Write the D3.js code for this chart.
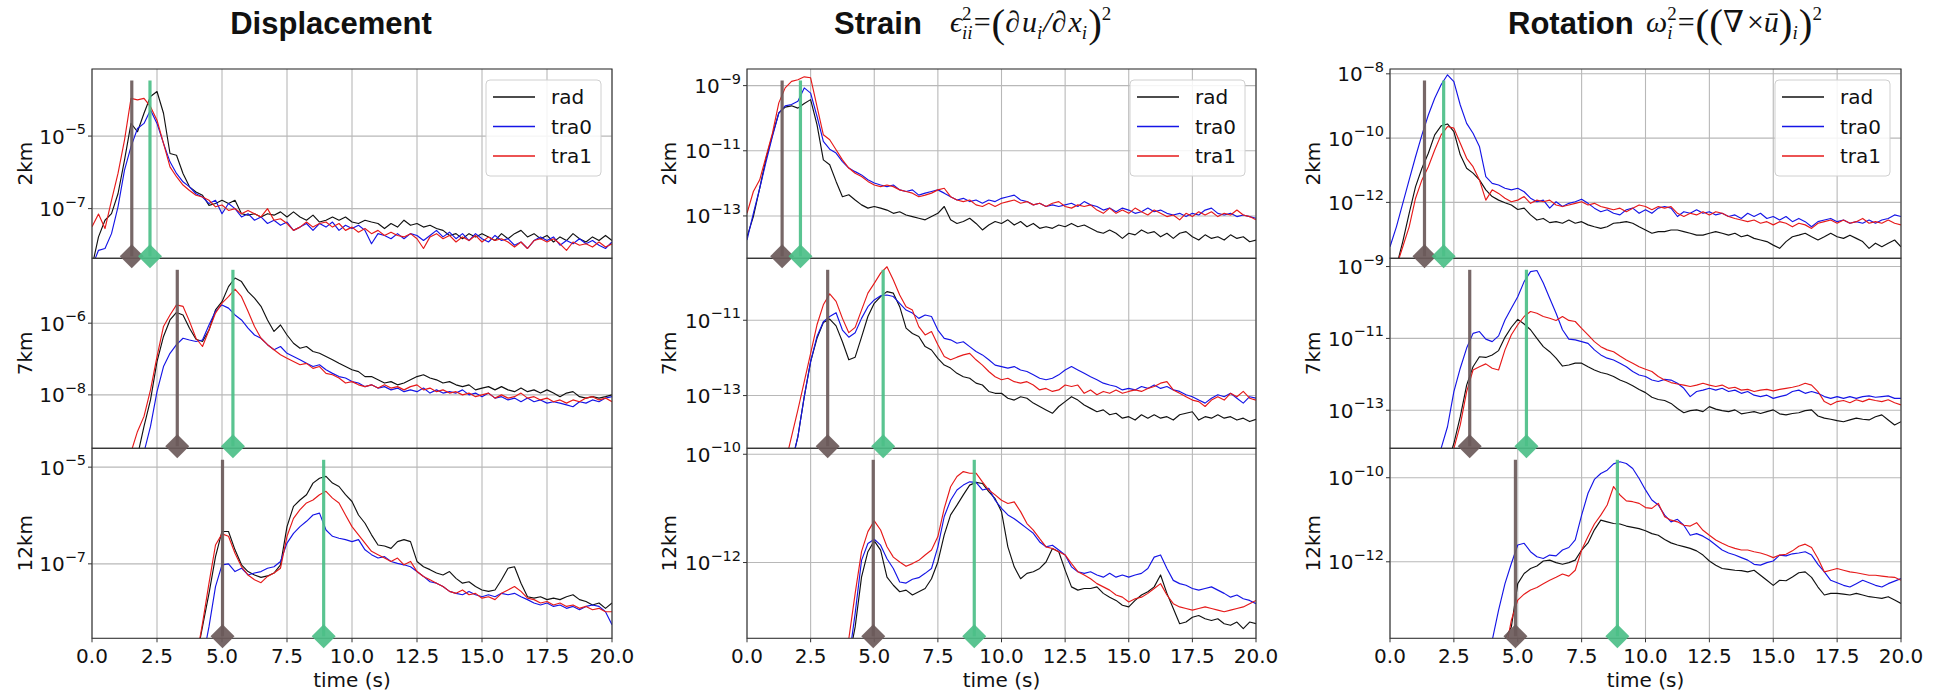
<!DOCTYPE html>
<html>
<head>
<meta charset="utf-8">
<script src="https://cdn.jsdelivr.net/npm/d3@7"></script>
<style>
  body { margin: 0; background: #fff; }
  svg { display: block; }
</style>
</head>
<body>
<div id="chart"></div>
<script>

// sample times (s)
var times = [0, 0.25, 0.5, 0.75, 1, 1.25, 1.5, 1.75, 2, 2.25, 2.5, 2.75, 3, 3.25, 3.5, 3.75,
  4, 4.25, 4.5, 4.75, 5, 5.25, 5.5, 5.75, 6, 6.25, 6.5, 6.75, 7, 7.25, 7.5, 7.75,
  8, 8.25, 8.5, 8.75, 9, 9.25, 9.5, 9.75, 10, 10.25, 10.5, 10.75, 11, 11.25, 11.5, 11.75,
  12, 12.25, 12.5, 12.75, 13, 13.25, 13.5, 13.75, 14, 14.25, 14.5, 14.75, 15, 15.25, 15.5, 15.75,
  16, 16.25, 16.5, 16.75, 17, 17.25, 17.5, 17.75, 18, 18.25, 18.5, 18.75, 19, 19.25, 19.5, 19.75, 20];

var columnTitles = ["Displacement", "Strain", "Rotation"];
var rowLabels = ["2km", "7km", "12km"];
var seriesNames = ["rad", "tra0", "tra1"];
var xTicks = [0, 2.5, 5, 7.5, 10, 12.5, 15, 17.5, 20];

// all amplitudes below are log10 values

// ---- Displacement ----
var dispRad2 = [-8.6, -7.78, -7.32, -7.14, -6.59, -5.66, -4.65, -4.88,
  -4.37, -3.91, -3.77, -4.37, -5.48, -5.53, -6.03, -6.4,
  -6.54, -6.63, -6.91, -6.86, -6.77, -6.86, -6.77, -7.14,
  -7.18, -7.14, -7.23, -7.14, -7.18, -7.09, -7.23, -7.09,
  -7.23, -7.32, -7.18, -7.37, -7.32, -7.23, -7.32, -7.23,
  -7.37, -7.41, -7.32, -7.37, -7.41, -7.55, -7.41, -7.51,
  -7.32, -7.46, -7.41, -7.51, -7.46, -7.55, -7.6, -7.74,
  -7.69, -7.83, -7.69, -7.78, -7.69, -7.78, -7.88, -7.69,
  -7.83, -7.69, -7.6, -7.78, -7.69, -7.83, -7.74, -7.92,
  -7.78, -7.88, -7.69, -7.83, -7.92, -7.78, -7.88, -7.74, -7.88];
var dispTra0_2 = [-8.6, -8.15, -8.1, -7.69, -6.95, -5.94, -5.29, -4.79,
  -4.65, -4.28, -4.65, -5.2, -5.71, -6.03, -6.26, -6.4,
  -6.59, -6.68, -6.86, -6.77, -7.14, -6.86, -7.0, -7.23,
  -7.14, -7.32, -7.23, -7.41, -7.32, -7.46, -7.37, -7.6,
  -7.51, -7.41, -7.6, -7.41, -7.51, -7.37, -7.6, -7.46,
  -7.55, -7.46, -7.6, -7.97, -7.69, -7.74, -7.83, -7.69,
  -7.83, -7.69, -7.74, -7.88, -7.74, -7.6, -7.78, -7.65,
  -7.83, -7.69, -7.88, -7.69, -7.83, -7.92, -7.74, -7.88,
  -7.83, -8.01, -7.92, -8.1, -7.88, -7.78, -7.88, -7.78,
  -8.01, -7.88, -7.97, -7.83, -7.97, -7.88, -8.01, -8.1, -7.92];
var dispTra1_2 = [-7.5, -7.15, -7.55, -6.77, -6.03, -5.11, -3.96, -4.0,
  -3.96, -4.19, -4.56, -5.2, -5.85, -6.12, -6.35, -6.5,
  -6.63, -6.68, -6.77, -6.95, -6.9, -7.05, -7.0, -7.14,
  -7.05, -7.14, -7.23, -7.0, -7.32, -7.28, -7.41, -7.6,
  -7.51, -7.37, -7.51, -7.41, -7.37, -7.51, -7.41, -7.6,
  -7.51, -7.65, -7.55, -7.69, -7.6, -7.74, -7.65, -7.74,
  -7.78, -7.69, -7.83, -8.1, -7.78, -7.69, -7.83, -7.74,
  -7.92, -7.78, -7.88, -7.74, -7.92, -7.78, -7.88, -7.83,
  -7.92, -8.06, -7.92, -8.1, -7.88, -7.83, -7.92, -7.83,
  -7.97, -8.15, -7.92, -8.01, -7.97, -8.06, -7.92, -8.06, -7.97];

var dispRad7 = [-10, -10, -10, -10, -10, -10, -10, -9.7,
  -8.88, -8.14, -7.07, -6.37, -5.91, -5.7, -5.77, -6.14,
  -6.45, -6.51, -6.19, -5.63, -5.4, -4.98, -4.74, -4.84,
  -5.12, -5.3, -5.53, -5.91, -6.23, -6.05, -6.33, -6.56,
  -6.7, -6.65, -6.79, -6.84, -6.93, -7.02, -7.12, -7.21,
  -7.3, -7.35, -7.49, -7.49, -7.58, -7.67, -7.63, -7.72,
  -7.67, -7.58, -7.49, -7.44, -7.53, -7.58, -7.67, -7.63,
  -7.72, -7.77, -7.72, -7.86, -7.81, -7.77, -7.86, -7.77,
  -7.86, -7.91, -7.81, -7.91, -7.86, -7.95, -7.86, -7.95,
  -8.05, -7.95, -7.91, -8.05, -8.09, -8.05, -8.09, -8.05, -8.0];
var dispTra0_7 = [-10, -10, -10, -10, -10, -10, -10, -10,
  -9.6, -8.88, -7.91, -7.21, -6.84, -6.6, -6.42, -6.47,
  -6.51, -6.47, -6.05, -5.67, -5.49, -5.58, -5.77, -5.91,
  -6.14, -6.33, -6.42, -6.6, -6.74, -6.65, -6.84, -6.93,
  -7.02, -7.12, -7.21, -7.16, -7.3, -7.4, -7.49, -7.53,
  -7.63, -7.67, -7.77, -7.72, -7.81, -7.77, -7.86, -7.81,
  -7.91, -7.86, -7.91, -7.81, -7.95, -7.86, -7.95, -7.91,
  -7.95, -7.86, -8.0, -7.95, -8.05, -7.95, -8.09, -8.05,
  -8.14, -8.09, -8.19, -8.09, -8.19, -8.14, -8.23, -8.19,
  -8.23, -8.28, -8.33, -8.19, -8.23, -8.14, -8.19, -8.09, -8.05];
var dispTra1_7 = [-10, -10, -10, -10, -10, -10, -9.6, -9.02,
  -8.6, -7.86, -6.93, -6.09, -5.77, -5.49, -5.53, -5.95,
  -6.42, -6.65, -6.19, -5.72, -5.44, -5.26, -5.05, -5.26,
  -5.67, -6.09, -6.42, -6.6, -6.74, -6.88, -6.98, -7.07,
  -7.16, -7.12, -7.26, -7.21, -7.4, -7.44, -7.53, -7.67,
  -7.63, -7.72, -7.77, -7.72, -7.81, -7.72, -7.81, -7.77,
  -7.86, -7.77, -7.72, -7.86, -7.81, -7.91, -7.86, -7.95,
  -7.91, -8.0, -7.95, -8.05, -8.0, -7.95, -8.09, -8.0,
  -8.09, -8.05, -7.95, -8.09, -8.05, -8.14, -8.09, -8.19,
  -8.14, -8.23, -8.14, -8.19, -8.09, -8.05, -8.14, -8.09, -8.19];

var dispRad12 = [-9, -9, -9, -9, -9, -9, -9, -9,
  -9, -9, -9, -9, -9, -9, -9, -9,
  -9, -8.3, -7.61, -6.85, -6.33, -6.33, -6.71, -7.02,
  -7.16, -7.23, -7.28, -7.25, -7.19, -7.02, -6.23, -5.81,
  -5.68, -5.57, -5.33, -5.23, -5.19, -5.33, -5.4, -5.57,
  -5.71, -5.99, -6.16, -6.4, -6.61, -6.63, -6.68, -6.54,
  -6.5, -6.54, -6.95, -7.06, -7.12, -7.19, -7.23, -7.16,
  -7.3, -7.4, -7.37, -7.47, -7.54, -7.57, -7.54, -7.33,
  -7.09, -7.06, -7.4, -7.68, -7.71, -7.68, -7.74, -7.71,
  -7.74, -7.68, -7.64, -7.74, -7.78, -7.85, -7.81, -7.92, -7.81];
var dispTra0_12 = [-9, -9, -9, -9, -9, -9, -9, -9,
  -9, -9, -9, -9, -9, -9, -9, -9,
  -9, -9, -8.3, -7.47, -7.02, -7.0, -7.16, -7.09,
  -7.23, -7.19, -7.16, -7.09, -7.06, -6.95, -6.57, -6.37,
  -6.23, -6.12, -5.99, -5.95, -6.3, -6.43, -6.47, -6.5,
  -6.54, -6.5, -6.71, -6.81, -6.88, -6.85, -6.95, -6.99,
  -7.02, -7.06, -7.16, -7.26, -7.37, -7.4, -7.47, -7.57,
  -7.61, -7.64, -7.57, -7.64, -7.68, -7.64, -7.68, -7.61,
  -7.64, -7.61, -7.68, -7.74, -7.81, -7.85, -7.81, -7.88,
  -7.85, -7.92, -7.88, -7.95, -7.88, -7.85, -7.88, -7.99, -8.26];
var dispTra1_12 = [-9, -9, -9, -9, -9, -9, -9, -9,
  -9, -9, -9, -9, -9, -9, -9, -9,
  -9, -8.23, -7.4, -6.61, -6.38, -6.43, -6.78, -7.06,
  -7.23, -7.33, -7.39, -7.26, -7.19, -7.09, -6.43, -6.06,
  -5.88, -5.74, -5.68, -5.57, -5.5, -5.64, -5.74, -5.99,
  -6.23, -6.4, -6.57, -6.74, -6.81, -6.88, -6.95, -6.88,
  -7.02, -6.95, -7.16, -7.26, -7.33, -7.4, -7.47, -7.57,
  -7.61, -7.54, -7.64, -7.61, -7.71, -7.68, -7.74, -7.61,
  -7.54, -7.47, -7.57, -7.71, -7.74, -7.81, -7.78, -7.85,
  -7.81, -7.88, -7.85, -7.92, -7.88, -7.95, -7.92, -7.99, -7.99];

// ---- Strain ----
var strainRad2 = [-13.64, -13.02, -12.15, -11.23, -10.51, -9.84, -9.66, -9.62,
  -9.69, -9.55, -9.43, -10.2, -11.28, -11.43, -11.94, -12.41,
  -12.35, -12.51, -12.66, -12.76, -12.71, -12.76, -12.82, -12.92,
  -12.87, -12.97, -13.02, -13.07, -13.12, -13.02, -12.92, -12.71,
  -13.12, -13.23, -13.17, -13.07, -13.23, -13.43, -13.28, -13.17,
  -13.23, -13.12, -13.28, -13.17, -13.33, -13.23, -13.38, -13.33,
  -13.38, -13.28, -13.33, -13.23, -13.33, -13.28, -13.38, -13.48,
  -13.53, -13.43, -13.53, -13.69, -13.53, -13.58, -13.43, -13.53,
  -13.48, -13.64, -13.53, -13.69, -13.53, -13.48, -13.64, -13.74,
  -13.58, -13.69, -13.64, -13.74, -13.58, -13.69, -13.64, -13.79, -13.74];
var strainTra0_2 = [-13.74, -12.92, -12.15, -11.33, -10.56, -9.84, -9.62, -9.58,
  -9.48, -9.07, -9.23, -9.94, -10.71, -10.95, -11.07, -11.33,
  -11.53, -11.64, -11.74, -11.89, -11.99, -12.05, -12.1, -12.05,
  -12.2, -12.25, -12.2, -12.36, -12.3, -12.25, -12.2, -12.3,
  -12.41, -12.51, -12.46, -12.56, -12.51, -12.61, -12.51, -12.56,
  -12.46, -12.41, -12.36, -12.51, -12.56, -12.66, -12.61, -12.71,
  -12.66, -12.71, -12.66, -12.61, -12.71, -12.56, -12.66, -12.71,
  -12.82, -12.76, -12.87, -12.76, -12.82, -12.92, -12.87, -12.76,
  -12.87, -12.82, -12.92, -12.97, -12.92, -13.02, -12.92, -12.97,
  -12.82, -12.76, -12.92, -12.97, -12.92, -13.02, -12.97, -13.02, -13.07];
var strainTra1_2 = [-12.92, -12.25, -11.89, -11.17, -10.46, -9.53, -9.07, -8.87,
  -8.82, -8.73, -8.76, -9.64, -10.51, -10.66, -10.97, -11.28,
  -11.53, -11.69, -11.79, -11.94, -12.05, -12.1, -12.05, -12.1,
  -12.2, -12.25, -12.3, -12.41, -12.36, -12.3, -12.2, -12.15,
  -12.41, -12.51, -12.56, -12.51, -12.66, -12.71, -12.61, -12.71,
  -12.61, -12.56, -12.51, -12.61, -12.56, -12.66, -12.61, -12.71,
  -12.61, -12.56, -12.71, -12.76, -12.66, -12.71, -12.66, -12.82,
  -12.92, -12.76, -12.92, -12.82, -12.92, -12.76, -12.87, -12.97,
  -12.82, -12.92, -13.02, -12.97, -13.12, -12.92, -13.02, -12.87,
  -12.97, -12.87, -13.02, -12.92, -12.97, -12.82, -12.97, -13.02, -13.12];

var strainRad7 = [-14.8, -14.8, -14.8, -14.8, -14.8, -14.8, -14.8, -14.8,
  -14.09, -13.03, -12.1, -11.48, -11.06, -10.97, -11.15, -11.57,
  -12.05, -11.98, -11.45, -10.9, -10.55, -10.37, -10.24, -10.28,
  -10.64, -11.21, -11.35, -11.43, -11.7, -11.79, -12.01, -12.19,
  -12.27, -12.41, -12.5, -12.54, -12.67, -12.72, -12.89, -12.94,
  -12.94, -13.07, -13.12, -13.03, -13.07, -13.2, -13.29, -13.38,
  -13.47, -13.29, -13.16, -13.03, -13.12, -13.25, -13.34, -13.43,
  -13.38, -13.51, -13.47, -13.6, -13.56, -13.65, -13.51, -13.6,
  -13.51, -13.6, -13.56, -13.65, -13.51, -13.47, -13.43, -13.65,
  -13.56, -13.6, -13.51, -13.6, -13.56, -13.65, -13.6, -13.69, -13.63];
var strainTra0_7 = [-14.8, -14.8, -14.8, -14.8, -14.8, -14.8, -14.8, -14.8,
  -14.09, -13.03, -12.1, -11.43, -11.04, -10.9, -10.8, -11.26,
  -11.45, -11.33, -10.95, -10.64, -10.46, -10.35, -10.33, -10.37,
  -10.55, -10.73, -10.81, -10.95, -10.86, -10.9, -11.26, -11.48,
  -11.52, -11.61, -11.57, -11.7, -11.83, -11.92, -12.05, -12.19,
  -12.23, -12.27, -12.23, -12.32, -12.36, -12.45, -12.54, -12.58,
  -12.54, -12.45, -12.32, -12.23, -12.32, -12.41, -12.5, -12.58,
  -12.67, -12.72, -12.76, -12.85, -12.81, -12.85, -12.76, -12.81,
  -12.72, -12.81, -12.76, -12.85, -12.89, -12.98, -13.03, -13.12,
  -13.2, -13.07, -12.98, -13.03, -12.94, -13.07, -13.2, -13.03, -13.07];
var strainTra1_7 = [-14.8, -14.8, -14.8, -14.8, -14.8, -14.8, -14.8, -14.09,
  -13.38, -12.63, -11.88, -11.12, -10.59, -10.3, -10.5, -10.95,
  -11.33, -11.19, -10.73, -10.28, -10.02, -9.75, -9.58, -9.93,
  -10.33, -10.64, -10.73, -11.17, -11.39, -11.3, -11.65, -11.96,
  -12.05, -11.98, -11.92, -11.88, -12.05, -12.19, -12.36, -12.5,
  -12.58, -12.54, -12.63, -12.67, -12.63, -12.72, -12.85, -12.81,
  -12.89, -12.85, -12.72, -12.76, -12.72, -12.94, -12.85, -12.98,
  -12.89, -12.94, -12.85, -12.94, -12.89, -12.85, -12.89, -12.81,
  -12.76, -12.67, -12.63, -12.85, -12.94, -13.03, -13.12, -13.16,
  -13.29, -13.12, -13.03, -13.12, -12.94, -13.03, -12.89, -13.07, -13.12];

var strainRad12 = [-13.8, -13.8, -13.8, -13.8, -13.8, -13.8, -13.8, -13.8,
  -13.8, -13.8, -13.8, -13.8, -13.8, -13.8, -13.8, -13.8,
  -13.8, -13.19, -12.27, -11.8, -11.6, -11.77, -12.27, -12.42,
  -12.54, -12.51, -12.6, -12.54, -12.48, -12.3, -11.99, -11.49,
  -11.12, -10.94, -10.75, -10.57, -10.52, -10.54, -10.69, -10.82,
  -11.06, -11.71, -12.08, -12.3, -12.2, -12.17, -12.11, -11.99,
  -11.74, -11.8, -12.14, -12.45, -12.51, -12.48, -12.48, -12.45,
  -12.57, -12.64, -12.7, -12.79, -12.82, -12.7, -12.6, -12.54,
  -12.45, -12.23, -12.57, -12.85, -13.13, -13.1, -13.01, -12.98,
  -13.04, -13.07, -13.04, -13.13, -13.16, -13.1, -13.22, -13.1, -13.13];
var strainTra0_12 = [-13.8, -13.8, -13.8, -13.8, -13.8, -13.8, -13.8, -13.8,
  -13.8, -13.8, -13.8, -13.8, -13.8, -13.8, -13.8, -13.8,
  -13.8, -12.94, -11.96, -11.65, -11.57, -11.68, -11.93, -12.11,
  -12.36, -12.38, -12.31, -12.28, -12.2, -12.11, -11.71, -11.15,
  -10.85, -10.66, -10.57, -10.51, -10.52, -10.66, -10.63, -10.85,
  -11.0, -11.12, -11.19, -11.28, -11.37, -11.46, -11.62, -11.71,
  -11.68, -11.77, -11.86, -12.08, -12.17, -12.2, -12.17, -12.23,
  -12.27, -12.2, -12.27, -12.23, -12.27, -12.23, -12.2, -12.11,
  -11.9, -11.86, -12.11, -12.33, -12.39, -12.42, -12.48, -12.51,
  -12.48, -12.45, -12.51, -12.57, -12.64, -12.6, -12.67, -12.7, -12.76];
var strainTra1_12 = [-13.8, -13.8, -13.8, -13.8, -13.8, -13.8, -13.8, -13.8,
  -13.8, -13.8, -13.8, -13.8, -13.8, -13.8, -13.8, -13.8,
  -13.41, -12.57, -11.8, -11.43, -11.23, -11.4, -11.71, -11.9,
  -11.99, -12.07, -12.02, -11.96, -11.86, -11.77, -11.52, -11.0,
  -10.6, -10.41, -10.32, -10.35, -10.35, -10.51, -10.66, -10.75,
  -10.85, -10.91, -10.88, -11.06, -11.28, -11.4, -11.56, -11.71,
  -11.74, -11.8, -11.86, -12.02, -12.17, -12.23, -12.3, -12.39,
  -12.45, -12.51, -12.6, -12.64, -12.73, -12.67, -12.64, -12.57,
  -12.48, -12.39, -12.6, -12.76, -12.82, -12.85, -12.88, -12.85,
  -12.82, -12.85, -12.88, -12.91, -12.88, -12.85, -12.82, -12.76, -12.7];

// ---- Rotation ----
var rotRad2 = [-14, -14, -13.22, -12.34, -11.51, -10.94, -10.47, -9.9,
  -9.62, -9.56, -9.8, -10.52, -10.94, -11.09, -11.3, -11.61,
  -11.82, -11.93, -12.01, -12.08, -12.22, -12.18, -12.39, -12.55,
  -12.5, -12.63, -12.6, -12.65, -12.55, -12.65, -12.6, -12.7,
  -12.76, -12.81, -12.76, -12.65, -12.63, -12.6, -12.65, -12.76,
  -12.86, -12.96, -12.91, -12.91, -12.86, -12.86, -12.91, -12.96,
  -13.02, -13.02, -12.96, -12.91, -12.96, -13.02, -12.96, -13.07,
  -13.02, -13.12, -13.17, -13.22, -13.33, -13.43, -13.22, -13.07,
  -13.02, -12.96, -13.07, -13.17, -13.07, -12.96, -13.07, -13.12,
  -13.02, -13.12, -13.22, -13.43, -13.27, -13.38, -13.27, -13.17, -13.38];
var rotTra0_2 = [-13.38, -12.76, -12.03, -11.3, -10.58, -9.9, -9.28, -8.76,
  -8.34, -8.03, -8.24, -8.97, -9.54, -9.85, -10.26, -11.2,
  -11.41, -11.46, -11.56, -11.61, -11.56, -11.67, -11.87, -11.98,
  -11.93, -12.18, -11.98, -12.13, -12.03, -11.98, -11.9, -12.03,
  -12.18, -12.29, -12.23, -12.34, -12.39, -12.23, -12.18, -12.34,
  -12.23, -12.34, -12.18, -12.13, -12.18, -12.44, -12.29, -12.34,
  -12.23, -12.34, -12.29, -12.39, -12.34, -12.44, -12.39, -12.5,
  -12.34, -12.44, -12.34, -12.5, -12.44, -12.55, -12.44, -12.6,
  -12.5, -12.6, -12.76, -12.6, -12.55, -12.5, -12.6, -12.55,
  -12.65, -12.6, -12.65, -12.55, -12.65, -12.55, -12.5, -12.39, -12.44];
var rotTra1_2 = [-14, -14, -13.38, -12.76, -11.87, -11.3, -10.89, -10.37,
  -9.9, -9.64, -9.69, -10.16, -10.63, -10.89, -11.3, -11.93,
  -11.61, -11.72, -11.87, -11.98, -11.93, -11.82, -12.03, -11.93,
  -11.98, -11.93, -12.08, -12.13, -12.08, -12.03, -11.98, -12.08,
  -12.03, -12.13, -12.18, -12.23, -12.18, -12.29, -12.18, -12.08,
  -12.13, -12.23, -12.13, -12.18, -12.13, -12.34, -12.44, -12.34,
  -12.39, -12.29, -12.39, -12.29, -12.34, -12.44, -12.5, -12.55,
  -12.6, -12.55, -12.65, -12.6, -12.7, -12.6, -12.65, -12.76,
  -12.65, -12.7, -12.81, -12.65, -12.6, -12.55, -12.65, -12.55,
  -12.65, -12.6, -12.5, -12.65, -12.6, -12.65, -12.55, -12.65, -12.7];

var rotRad7 = [-14.5, -14.5, -14.5, -14.5, -14.5, -14.5, -14.5, -14.5,
  -14.5, -14.5, -13.92, -13.18, -12.3, -11.79, -11.51, -11.53,
  -11.46, -11.34, -10.97, -10.69, -10.47, -10.6, -10.76, -11.0,
  -11.23, -11.37, -11.55, -11.77, -11.74, -11.69, -11.69, -11.79,
  -11.88, -11.95, -11.99, -12.06, -12.16, -12.23, -12.32, -12.42,
  -12.51, -12.64, -12.7, -12.73, -12.81, -12.95, -13.07, -13.01,
  -12.99, -13.04, -12.9, -12.97, -13.01, -13.04, -12.99, -13.1,
  -13.07, -13.04, -13.09, -13.04, -12.99, -13.1, -13.13, -13.09,
  -13.07, -13.01, -12.99, -13.16, -13.22, -13.25, -13.29, -13.32,
  -13.27, -13.22, -13.25, -13.27, -13.18, -13.13, -13.27, -13.41, -13.32];
var rotTra0_7 = [-14.5, -14.5, -14.5, -14.5, -14.5, -14.5, -14.5, -14.5,
  -14.06, -13.46, -12.48, -11.83, -11.27, -10.86, -10.81, -11.02,
  -11.09, -10.93, -10.49, -10.16, -9.84, -9.42, -9.14, -9.11,
  -9.46, -9.88, -10.3, -10.76, -11.02, -11.04, -11.09, -11.14,
  -11.32, -11.46, -11.55, -11.6, -11.69, -11.79, -11.92, -12.02,
  -12.06, -12.16, -12.2, -12.14, -12.16, -12.25, -12.39, -12.62,
  -12.48, -12.44, -12.39, -12.44, -12.39, -12.48, -12.44, -12.53,
  -12.48, -12.58, -12.62, -12.58, -12.67, -12.62, -12.58, -12.48,
  -12.44, -12.53, -12.48, -12.53, -12.62, -12.67, -12.62, -12.67,
  -12.62, -12.67, -12.62, -12.6, -12.64, -12.62, -12.6, -12.67, -12.67];
var rotTra1_7 = [-14.5, -14.5, -14.5, -14.5, -14.5, -14.5, -14.5, -14.5,
  -14.5, -14.5, -14.06, -13.41, -12.48, -11.88, -11.79, -11.71,
  -11.83, -11.88, -11.32, -10.9, -10.62, -10.39, -10.25, -10.3,
  -10.39, -10.44, -10.5, -10.39, -10.5, -10.53, -10.72, -10.9,
  -11.09, -11.23, -11.32, -11.37, -11.49, -11.6, -11.69, -11.79,
  -11.86, -11.92, -12.06, -12.16, -12.23, -12.27, -12.3, -12.34,
  -12.3, -12.25, -12.3, -12.34, -12.3, -12.39, -12.36, -12.44,
  -12.42, -12.48, -12.44, -12.42, -12.46, -12.42, -12.39, -12.36,
  -12.32, -12.25, -12.3, -12.48, -12.76, -12.85, -12.76, -12.73,
  -12.79, -12.71, -12.76, -12.69, -12.73, -12.76, -12.71, -12.79, -12.85];

var rotRad12 = [-14.2, -14.2, -14.2, -14.2, -14.2, -14.2, -14.2, -14.2,
  -14.2, -14.2, -14.2, -14.2, -14.2, -14.2, -14.2, -14.2,
  -14.2, -14.2, -13.83, -13.55, -12.52, -12.28, -12.16, -12.1,
  -11.98, -11.96, -12.02, -12.06, -12.02, -11.96, -11.72, -11.55,
  -11.24, -11.01, -11.05, -11.09, -11.1, -11.15, -11.18, -11.21,
  -11.26, -11.33, -11.37, -11.47, -11.55, -11.6, -11.64, -11.68,
  -11.74, -11.84, -11.98, -12.08, -12.16, -12.18, -12.2, -12.21,
  -12.24, -12.2, -12.32, -12.44, -12.56, -12.44, -12.45, -12.36,
  -12.26, -12.24, -12.37, -12.6, -12.79, -12.75, -12.75, -12.77,
  -12.79, -12.75, -12.79, -12.83, -12.85, -12.87, -12.83, -12.91, -12.99];
var rotTra0_12 = [-14.2, -14.2, -14.2, -14.2, -14.2, -14.2, -14.2, -14.2,
  -14.2, -14.2, -14.2, -14.2, -14.2, -14.2, -14.2, -14.2,
  -13.87, -13.15, -12.52, -12.04, -11.6, -11.56, -11.76, -11.88,
  -11.92, -11.84, -11.86, -11.72, -11.66, -11.48, -10.89, -10.37,
  -10.04, -9.9, -9.82, -9.67, -9.62, -9.66, -9.78, -10.02,
  -10.29, -10.53, -10.65, -10.89, -11.05, -10.99, -11.13, -11.37,
  -11.33, -11.39, -11.48, -11.6, -11.72, -11.79, -11.84, -11.9,
  -11.96, -12.06, -12.08, -12.02, -11.98, -11.84, -11.86, -11.81,
  -11.79, -11.76, -11.84, -12.06, -12.24, -12.44, -12.5, -12.56,
  -12.6, -12.52, -12.44, -12.5, -12.56, -12.6, -12.52, -12.46, -12.4];
var rotTra1_12 = [-14.2, -14.2, -14.2, -14.2, -14.2, -14.2, -14.2, -14.2,
  -14.2, -14.2, -14.2, -14.2, -14.2, -14.2, -14.2, -14.2,
  -14.2, -14.2, -14.2, -13.39, -12.91, -12.77, -12.67, -12.61,
  -12.52, -12.44, -12.37, -12.29, -12.34, -12.2, -11.72, -11.4,
  -11.1, -10.89, -10.65, -10.21, -10.41, -10.55, -10.57, -10.61,
  -10.71, -10.73, -10.61, -10.93, -11.01, -11.05, -11.13, -11.15,
  -11.07, -11.25, -11.37, -11.48, -11.56, -11.63, -11.68, -11.72,
  -11.72, -11.76, -11.79, -11.84, -11.9, -11.84, -11.82, -11.74,
  -11.63, -11.58, -11.66, -11.92, -12.24, -12.2, -12.16, -12.2,
  -12.24, -12.26, -12.29, -12.32, -12.32, -12.34, -12.36, -12.37, -12.44];

// arrival markers (s), one per row (2km, 7km, 12km)
var dispP = [1.53, 3.28, 5.02], dispS = [2.23, 5.42, 8.91];
var strainP = [1.38, 3.17, 4.96], strainS = [2.10, 5.35, 8.93];
var rotP = [1.35, 3.12, 4.91], rotS = [2.10, 5.34, 8.90];

// labelled decades per panel
var dispTicks = [[-5, -7], [-6, -8], [-5, -7]];
var strainTicks = [[-9, -11, -13], [-11, -13], [-10, -12]];
var rotTicks = [[-8, -10, -12], [-9, -11, -13], [-10, -12]];

// ---------------- layout ----------------
var svgWidth = 1942, svgHeight = 691;
var colLeft = [92, 747, 1390], colRight = [612, 1256, 1901];
var rowTop = [69, 258.3, 448.3], rowBottom = [258.3, 448.3, 638.3];
var yLabelX = [25, 669, 1313];
// log10 axis limits [bottom, top]
var yLimits = [
  [[-8.37, -3.15], [-9.49, -4.19], [-8.54, -4.61]],
  [[-14.30, -8.49], [-14.40, -9.355], [-13.40, -9.89]],
  [[-13.74, -7.85], [-14.06, -8.77], [-13.82, -9.30]]
];
var colors = ["#111111", "#1515e6", "#e61a1a"];
var pColor = "#6b5a5a", sColor = "#4cbf88";

var panels = [
  [[dispRad2, dispTra0_2, dispTra1_2], [dispRad7, dispTra0_7, dispTra1_7], [dispRad12, dispTra0_12, dispTra1_12]],
  [[strainRad2, strainTra0_2, strainTra1_2], [strainRad7, strainTra0_7, strainTra1_7], [strainRad12, strainTra0_12, strainTra1_12]],
  [[rotRad2, rotTra0_2, rotTra1_2], [rotRad7, rotTra0_7, rotTra1_7], [rotRad12, rotTra0_12, rotTra1_12]]
];
var tickSets = [dispTicks, strainTicks, rotTicks];
var pSets = [dispP, strainP, rotP], sSets = [dispS, strainS, rotS];

var svg = d3.select("#chart").append("svg")
  .attr("width", svgWidth)
  .attr("height", svgHeight)
  .style("background", "#fff");

for (var c = 0; c < 3; c++) {
  var x = d3.scaleLinear().domain([0, 20]).range([colLeft[c], colRight[c]]);

  for (var r = 0; r < 3; r++) {
    var lim = yLimits[c][r];
    var y = d3.scaleLog()
      .domain([Math.pow(10, lim[0]), Math.pow(10, lim[1])])
      .range([rowBottom[r], rowTop[r]]);
    var g = svg.append("g");
    var clipId = "clip" + c + r;
    g.append("clipPath").attr("id", clipId).append("rect")
      .attr("x", colLeft[c]).attr("y", rowTop[r])
      .attr("width", colRight[c] - colLeft[c]).attr("height", rowBottom[r] - rowTop[r]);

    // grid
    g.selectAll(".vgrid").data(xTicks).enter().append("line")
      .attr("x1", d => x(d)).attr("x2", d => x(d))
      .attr("y1", rowTop[r]).attr("y2", rowBottom[r])
      .attr("stroke", "#b8b8b8").attr("stroke-width", 1.1);
    g.selectAll(".hgrid").data(tickSets[c][r]).enter().append("line")
      .attr("x1", colLeft[c]).attr("x2", colRight[c])
      .attr("y1", d => y(Math.pow(10, d))).attr("y2", d => y(Math.pow(10, d)))
      .attr("stroke", "#b8b8b8").attr("stroke-width", 1.1);

    // series
    var line = d3.line()
      .x((d, i) => x(times[i]))
      .y(d => y(Math.pow(10, d)));
    var lineG = g.append("g").attr("clip-path", "url(#" + clipId + ")");
    panels[c][r].forEach(function(vals, k) {
      lineG.append("path")
        .datum(vals)
        .attr("d", line)
        .attr("fill", "none")
        .attr("stroke", colors[k])
        .attr("stroke-width", 1.15)
        .attr("stroke-linejoin", "round");
    });

    // frame
    g.append("rect")
      .attr("x", colLeft[c]).attr("y", rowTop[r])
      .attr("width", colRight[c] - colLeft[c]).attr("height", rowBottom[r] - rowTop[r])
      .attr("fill", "none").attr("stroke", "#333").attr("stroke-width", 1.1);

    // y tick labels 10^n
    var yt = g.selectAll(".ytick").data(tickSets[c][r]).enter().append("g");
    yt.append("line")
      .attr("x1", colLeft[c] - 4).attr("x2", colLeft[c])
      .attr("y1", d => y(Math.pow(10, d))).attr("y2", d => y(Math.pow(10, d)))
      .attr("stroke", "#333");
    var txt = yt.append("text")
      .attr("x", colLeft[c] - 6)
      .attr("y", d => y(Math.pow(10, d)) + 7.5)
      .attr("text-anchor", "end")
      .style("font-family", "DejaVu Sans")
      .style("font-size", "20px")
      .style("fill", "#111");
    txt.append("tspan").text("10");
    txt.append("tspan").attr("dy", -9.5).style("font-size", "14.5px").text(d => "\u2212" + Math.abs(d));

    // row label
    svg.append("text")
      .attr("transform", "translate(" + yLabelX[c] + "," + ((rowTop[r] + rowBottom[r]) / 2) + ") rotate(-90)")
      .attr("text-anchor", "middle")
      .attr("dominant-baseline", "central")
      .style("font-family", "DejaVu Sans")
      .style("font-size", "20px")
      .style("fill", "#111")
      .text(rowLabels[r]);
  }

  // x axis ticks on bottom row
  var xb = svg.append("g");
  xb.selectAll("line").data(xTicks).enter().append("line")
    .attr("x1", d => x(d)).attr("x2", d => x(d))
    .attr("y1", rowBottom[2]).attr("y2", rowBottom[2] + 4)
    .attr("stroke", "#333");
  xb.selectAll("text").data(xTicks).enter().append("text")
    .attr("x", d => x(d)).attr("y", rowBottom[2] + 24.5)
    .attr("text-anchor", "middle")
    .style("font-family", "DejaVu Sans").style("font-size", "20px").style("fill", "#111")
    .text(d => d3.format(".1f")(d));
  svg.append("text")
    .attr("x", (colLeft[c] + colRight[c]) / 2).attr("y", 686.5)
    .attr("text-anchor", "middle")
    .style("font-family", "DejaVu Sans").style("font-size", "20px").style("fill", "#111")
    .text("time (s)");

  // legend
  var lx = colRight[c] - 11 - 115, ly = rowTop[0] + 11;
  var leg = svg.append("g");
  leg.append("rect").attr("x", lx).attr("y", ly).attr("width", 115).attr("height", 96)
    .attr("rx", 4).attr("fill", "#fff").attr("fill-opacity", 0.85)
    .attr("stroke", "#d0d0d0").attr("stroke-width", 1);
  seriesNames.forEach(function(name, k) {
    var yy = ly + 17 + k * 29.5;
    leg.append("line").attr("x1", lx + 7).attr("x2", lx + 49).attr("y1", yy).attr("y2", yy)
      .attr("stroke", colors[k]).attr("stroke-width", 1.3);
    leg.append("text").attr("x", lx + 65).attr("y", yy)
      .attr("dominant-baseline", "central")
      .style("font-family", "DejaVu Sans").style("font-size", "20px").style("fill", "#111")
      .text(name);
  });
}

// arrival markers drawn on top of all panels
var markerLayer = svg.append("g");
for (var c2 = 0; c2 < 3; c2++) {
  var xm = d3.scaleLinear().domain([0, 20]).range([colLeft[c2], colRight[c2]]);
  for (var r2 = 0; r2 < 3; r2++) {
    [[pSets[c2][r2], pColor], [sSets[c2][r2], sColor]].forEach(function(m) {
      var px = xm(m[0]);
      var yb = rowBottom[r2] - 2;
      markerLayer.append("line")
        .attr("x1", px).attr("x2", px)
        .attr("y1", yb).attr("y2", rowTop[r2] + 11.5)
        .attr("stroke", m[1]).attr("stroke-width", 3.2).attr("stroke-opacity", 0.92);
      markerLayer.append("path")
        .attr("d", "M" + px + "," + (yb - 12) + " L" + (px + 12) + "," + yb + " L" + px + "," + (yb + 12) + " L" + (px - 12) + "," + yb + " Z")
        .attr("fill", m[1]).attr("fill-opacity", 0.92);
    });
  }
}

// ---------------- titles ----------------
function boldTitle(x0, text, anchor) {
  return svg.append("text")
    .attr("x", x0).attr("y", 34)
    .attr("text-anchor", anchor)
    .style("font-family", "Liberation Sans, Arial, sans-serif")
    .style("font-weight", "bold").style("font-size", "31px").style("fill", "#111")
    .text(text);
}

function mathTitle(x0, base, parts) {
  var xx = x0;
  var fam = "Liberation Serif, DejaVu Serif, serif";
  parts.forEach(function(p) {
    if (p.sup !== undefined || p.sub !== undefined) {
      var w = 0;
      if (p.sup !== undefined) {
        var s = svg.append("text").attr("x", xx).attr("y", base - 12)
          .style("font-family", fam).style("font-size", "19px").style("fill", "#111").text(p.sup);
        w = Math.max(w, s.node().getComputedTextLength());
      }
      if (p.sub !== undefined) {
        var b = svg.append("text").attr("x", xx).attr("y", base + 7)
          .style("font-family", fam).style("font-style", "italic")
          .style("font-size", "19px").style("fill", "#111").text(p.sub);
        w = Math.max(w, b.node().getComputedTextLength());
      }
      xx += w + 1;
    } else {
      var t = svg.append("text").attr("x", xx).attr("y", base + (p.big ? 5 : 0))
        .style("font-family", fam)
        .style("font-style", p.it ? "italic" : "normal")
        .style("font-size", (p.big ? 41 : 30) + "px")
        .style("fill", "#111").text(p.t);
      xx += t.node().getComputedTextLength() + (p.gap || 0);
    }
  });
}

boldTitle(331, columnTitles[0], "middle");
boldTitle(834, columnTitles[1], "start");
mathTitle(950, 32, [
  {t: "\u03f5", it: true}, {sup: "2", sub: "ii"}, {t: "=", gap: 1}, {t: "(", big: true},
  {t: "\u2202", it: true, gap: 2}, {t: "u", it: true}, {sub: "i"}, {t: "/", it: true},
  {t: "\u2202", it: true, gap: 2}, {t: "x", it: true}, {sub: "i"}, {t: ")", big: true}, {sup: "2"}
]);
boldTitle(1508, columnTitles[2], "start");
mathTitle(1646, 32, [
  {t: "\u03c9", it: true}, {sup: "2", sub: "i"}, {t: "=", gap: 1}, {t: "(", big: true}, {t: "(", big: true},
  {t: "\u2207", gap: 3}, {t: "\u00d7"}, {t: "\u016b", it: true}, {t: ")", big: true}, {sub: "i"},
  {t: ")", big: true}, {sup: "2"}
]);

</script>
</body>
</html>
